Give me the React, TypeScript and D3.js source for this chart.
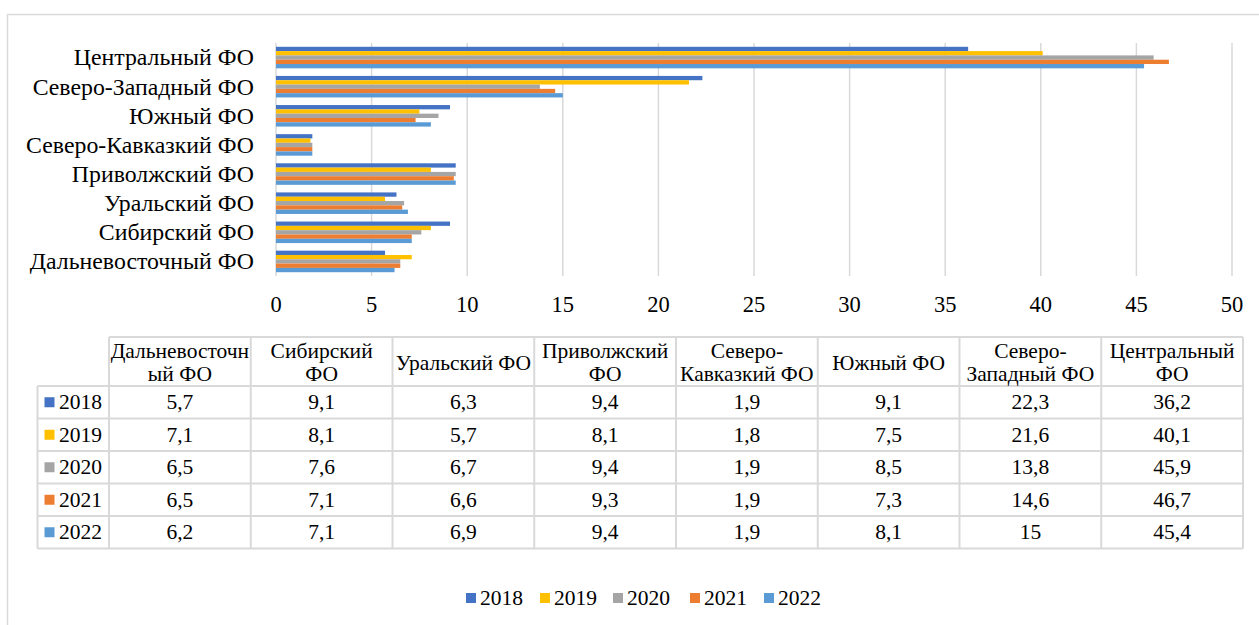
import React from 'react';
import * as d3 from 'd3';

// Categories as drawn top-to-bottom in the bar chart
const categories = [
  'Центральный ФО',
  'Северо-Западный ФО',
  'Южный ФО',
  'Северо-Кавказкий ФО',
  'Приволжский ФО',
  'Уральский ФО',
  'Сибирский ФО',
  'Дальневосточный ФО',
];
// Table column order (left to right)
const tableColumns = [
  'Дальневосточный ФО',
  'Сибирский ФО',
  'Уральский ФО',
  'Приволжский ФО',
  'Северо-Кавказкий ФО',
  'Южный ФО',
  'Северо-Западный ФО',
  'Центральный ФО',
];
const tableHeaderLines = [
  ['Дальневосточн', 'ый ФО'],
  ['Сибирский', 'ФО'],
  ['Уральский ФО'],
  ['Приволжский', 'ФО'],
  ['Северо-', 'Кавказкий ФО'],
  ['Южный ФО'],
  ['Северо-', 'Западный ФО'],
  ['Центральный', 'ФО'],
];
const years = ['2018', '2019', '2020', '2021', '2022'];
const colors = ['#4472C4', '#FFC000', '#A5A5A5', '#ED7D31', '#5B9BD5'];

// values in table column order
const v2018 = [5.7, 9.1, 6.3, 9.4, 1.9, 9.1, 22.3, 36.2];
const v2019 = [7.1, 8.1, 5.7, 8.1, 1.8, 7.5, 21.6, 40.1];
const v2020 = [6.5, 7.6, 6.7, 9.4, 1.9, 8.5, 13.8, 45.9];
const v2021 = [6.5, 7.1, 6.6, 9.3, 1.9, 7.3, 14.6, 46.7];
const v2022 = [6.2, 7.1, 6.9, 9.4, 1.9, 8.1, 15, 45.4];
const series = [v2018, v2019, v2020, v2021, v2022];

const xTicks = [0, 5, 10, 15, 20, 25, 30, 35, 40, 45, 50];

const GRID = '#d9d9d9';

const fmt = (v: number) => String(v).replace('.', ',');

type TProps = {
  x: number;
  y: number;
  size: number;
  anchor?: 'start' | 'middle' | 'end';
  children: React.ReactNode;
};

// y is the vertical centre of the text
function T({ x, y, size, anchor = 'start', children }: TProps) {
  return (
    <text
      x={x}
      y={y + size * 0.33}
      textAnchor={anchor}
      fontSize={size}
      fill="#000"
      style={{ fontFamily: '"Liberation Serif"' }}
    >
      {children}
    </text>
  );
}

export default function App() {
  const W = 1259;
  const H = 625;

  const x = d3.scaleLinear().domain([0, 50]).range([276, 1232]);
  const y0 = d3.scaleBand<string>().domain(categories).range([43, 276]).paddingInner(0).paddingOuter(0);
  const y1 = d3
    .scaleBand<string>()
    .domain(years)
    .range([0, y0.bandwidth()])
    .paddingInner(0)
    .paddingOuter(0.88);

  const valueOf = (yearIdx: number, cat: string) => series[yearIdx][tableColumns.indexOf(cat)];

  // Table geometry
  const colX = d3.range(tableColumns.length + 1).map((i) => 109 + i * ((1243 - 109) / tableColumns.length));
  const labelLeft = 37.5;
  const headerTop = 337;
  const headerBottom = 386;
  const rowY = d3.scaleBand<string>().domain(years).range([headerBottom, 548.5]);

  // Legend
  const legendX = d3.scaleOrdinal<string, number>().domain(years).range([466, 540, 613, 690, 764]);

  return (
    <svg width={W} height={H} style={{ position: 'absolute', left: 0, top: 0 }}>
      <rect x={0} y={0} width={W} height={H} fill="#fff" />
      {/* outer frame */}
      <path d={`M7.5,${H + 2} V14.5 H${W + 2}`} fill="none" stroke={GRID} strokeWidth={1.5} />

      {/* gridlines */}
      {xTicks.map((t) => (
        <line key={'g' + t} x1={x(t)} x2={x(t)} y1={43} y2={276} stroke={GRID} strokeWidth={1.5} />
      ))}

      {/* bars */}
      {categories.map((cat) => (
        <g key={cat} transform={`translate(0,${y0(cat)})`}>
          {years.map((yr, i) => (
            <rect
              key={yr}
              x={x(0)}
              y={y1(yr)}
              width={x(valueOf(i, cat)) - x(0)}
              height={y1.bandwidth()}
              fill={colors[i]}
            />
          ))}
        </g>
      ))}

      {/* category labels */}
      {categories.map((cat) => (
        <T key={'l' + cat} x={254} y={(y0(cat) as number) + y0.bandwidth() / 2} size={23.8} anchor="end">
          {cat}
        </T>
      ))}

      {/* x tick labels */}
      {xTicks.map((t) => (
        <T key={'t' + t} x={x(t)} y={305} size={22.5} anchor="middle">
          {t}
        </T>
      ))}

      {/* data table */}
      <g stroke={GRID} strokeWidth={2} fill="none">
        <line x1={colX[0]} x2={colX[colX.length - 1]} y1={headerTop} y2={headerTop} />
        {[headerBottom, ...years.map((yr) => (rowY(yr) as number) + rowY.bandwidth())].map((yy, i) => (
          <line key={'h' + i} x1={labelLeft} x2={colX[colX.length - 1]} y1={yy} y2={yy} />
        ))}
        <line x1={labelLeft} x2={labelLeft} y1={headerBottom} y2={548.5} />
        {colX.map((cx, i) => (
          <line key={'v' + i} x1={cx} x2={cx} y1={headerTop} y2={548.5} />
        ))}
      </g>

      {/* header text */}
      {tableHeaderLines.map((lines, i) => {
        const cx = (colX[i] + colX[i + 1]) / 2;
        const cy = (headerTop + headerBottom) / 2 + 1;
        const lh = 22.5;
        return (
          <g key={'hd' + i}>
            {lines.map((ln, j) => (
              <T key={j} x={cx} y={cy + (j - (lines.length - 1) / 2) * lh} size={21.5} anchor="middle">
                {ln}
              </T>
            ))}
          </g>
        );
      })}

      {/* rows */}
      {years.map((yr, i) => {
        const cy = (rowY(yr) as number) + rowY.bandwidth() / 2;
        return (
          <g key={'r' + yr}>
            <rect x={44.5} y={cy - 5} width={10} height={10} fill={colors[i]} />
            <T x={59} y={cy} size={21.5}>
              {yr}
            </T>
            {series[i].map((v, j) => (
              <T key={j} x={(colX[j] + colX[j + 1]) / 2} y={cy} size={21.5} anchor="middle">
                {fmt(v)}
              </T>
            ))}
          </g>
        );
      })}

      {/* legend */}
      {years.map((yr, i) => (
        <g key={'lg' + yr}>
          <rect x={legendX(yr)} y={593} width={10} height={10} fill={colors[i]} />
          <T x={legendX(yr) + 14} y={598} size={21.5}>
            {yr}
          </T>
        </g>
      ))}
    </svg>
  );
}
